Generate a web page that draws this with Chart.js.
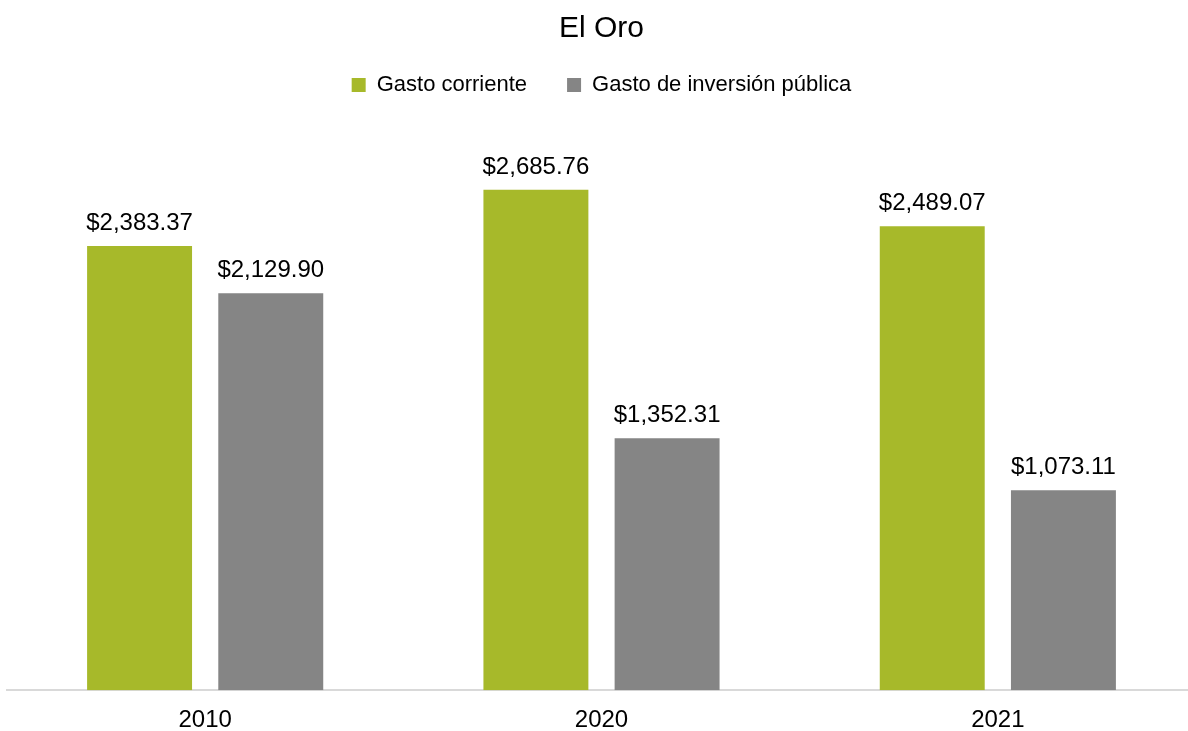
<!DOCTYPE html>
<html>
<head>
<meta charset="utf-8">
<script src="https://cdn.jsdelivr.net/npm/chart.js@4"></script>
<style>
  html, body { margin: 0; padding: 0; background: #fff; overflow: hidden; }
  #wrap { width: 1196px; height: 755px; }
</style>
</head>
<body>
<div id="wrap"><canvas id="chart" width="1196" height="755"></canvas></div>
<script>
// datos
const years = ['2010', '2020', '2021'];
const gastoCorriente = [2383.37, 2685.76, 2489.07];
const gastoInversion = [2129.90, 1352.31, 1073.11];
const seriesNames = ['Gasto corriente', 'Gasto de inversión pública'];

const fontFam = '"Liberation Sans", Arial, sans-serif';

// formato $2,383.37
const fmt = v => '$' + v.toLocaleString('en-US', { minimumFractionDigits: 2, maximumFractionDigits: 2 });

// etiquetas encima de cada barra
const barLabels = {
    id: 'barLabels',
    afterDatasetsDraw(chart) {
        const ctx = chart.ctx;
        ctx.save();
        ctx.font = '24px ' + fontFam;
        ctx.fillStyle = '#000';
        ctx.textAlign = 'center';
        ctx.textBaseline = 'alphabetic';
        chart.data.datasets.forEach((ds, i) => {
            chart.getDatasetMeta(i).data.forEach((bar, j) => {
                ctx.fillText(fmt(ds.data[j]), bar.x, bar.y - 16);
            });
        });
        ctx.restore();
    }
};

new Chart(document.getElementById('chart').getContext('2d'), {
    type: 'bar',
    data: {
        labels: years,
        datasets: [
            { label: seriesNames[0], data: gastoCorriente, backgroundColor: '#A7B92A' },
            { label: seriesNames[1], data: gastoInversion, backgroundColor: '#858585' }
        ]
    },
    options: {
        responsive: false,
        maintainAspectRatio: false,
        devicePixelRatio: 1,
        animation: false,
        categoryPercentage: 0.662,
        barPercentage: 0.80,
        layout: { padding: { left: 7, right: 0, top: 11, bottom: 4 } },
        plugins: {
            title: {
                display: true,
                text: 'El Oro',
                color: '#000',
                font: { family: fontFam, size: 30, weight: 'normal' },
                padding: { top: 0, bottom: -13 }
            },
            legend: {
                display: true,
                labels: {
                    color: '#000',
                    font: { family: fontFam, size: 22 },
                    boxWidth: 14,
                    boxHeight: 14,
                    padding: 40
                }
            },
            tooltip: { enabled: false }
        },
        scales: {
            x: {
                grid: { display: false, drawTicks: false },
                border: { display: true, color: '#D9D9D9', width: 2 },
                ticks: { color: '#000', font: { family: fontFam, size: 24 }, padding: 16 }
            },
            y: {
                display: false,
                min: 0,
                max: 3135
            }
        }
    },
    plugins: [barLabels]
});
</script>
</body>
</html>
